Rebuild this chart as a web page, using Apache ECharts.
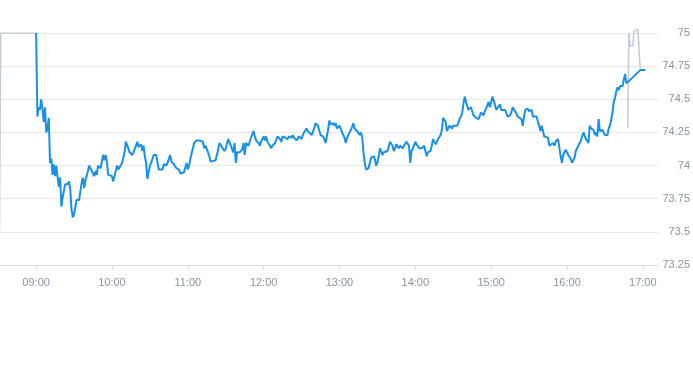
<!DOCTYPE html>
<html>
<head>
<meta charset="utf-8">
<script src="https://cdn.jsdelivr.net/npm/echarts@6/dist/echarts.min.js"></script>
<style>html,body{margin:0;padding:0;background:#fff;}#c{width:693px;height:365px;}</style>
</head>
<body>
<div id="c"></div>
<script>
// Regular session (blue)
const regTimes = [
 '09:00','09:01','09:02','09:03','09:04','09:05','09:06','09:07','09:08','09:09','09:10','09:11','09:12','09:13','09:14','09:15','09:16','09:17','09:18','09:19','09:20','09:21','09:22','09:23','09:25','09:26','09:27','09:28','09:29','09:30','09:32','09:34','09:36','09:37','09:38','09:39','09:40','09:41','09:42','09:43','09:45','09:46','09:47','09:48','09:49','09:50','09:51','09:53','09:54','09:55','09:56','09:57','09:58',
 '10:00','10:01','10:03','10:04','10:05','10:06','10:08','10:10','10:11','10:12','10:14','10:16','10:17','10:19','10:20','10:21','10:23','10:24','10:25','10:26','10:27','10:28','10:30','10:31','10:33','10:34','10:35','10:37','10:38','10:40','10:41','10:43','10:44','10:46','10:47','10:48','10:49','10:50','10:51','10:53','10:54','10:55','10:57','10:58','10:59',
 '11:00','11:01','11:02','11:04','11:05','11:07','11:09','11:10','11:12','11:13','11:14','11:16','11:17','11:18','11:19','11:22','11:23','11:24','11:25','11:26','11:27','11:29','11:30','11:32','11:33','11:34','11:36','11:37','11:38','11:39','11:41','11:42','11:43','11:44','11:45','11:46','11:48','11:49','11:50','11:52','11:53','11:54','11:56','11:57','11:58',
 '12:00','12:01','12:02','12:03','12:05','12:06','12:07','12:09','12:10','12:11','12:13','12:14','12:15','12:17','12:18','12:19','12:20','12:22','12:23','12:24','12:26','12:27','12:28','12:30','12:31','12:32','12:34','12:35','12:36','12:38','12:39','12:40','12:41','12:43','12:44','12:45','12:47','12:48','12:49','12:51','12:52','12:53','12:55','12:56','12:57','12:58',
 '13:00','13:01','13:02','13:04','13:05','13:06','13:07','13:08','13:09','13:10','13:11','13:12','13:14','13:15','13:16','13:17','13:18','13:19','13:20','13:21','13:23','13:24','13:25','13:27','13:28','13:29','13:30','13:31','13:32','13:34','13:35','13:36','13:38','13:39','13:40','13:42','13:43','13:44','13:45','13:47','13:48','13:50','13:51','13:52','13:53','13:55','13:56','13:57','13:59',
 '14:00','14:01','14:03','14:04','14:05','14:07','14:08','14:09','14:10','14:12','14:13','14:14','14:16','14:17','14:18','14:20','14:21','14:22','14:24','14:25','14:26','14:27','14:29','14:30','14:31','14:33','14:34','14:35','14:37','14:38','14:39','14:41','14:42','14:43','14:44','14:45','14:46','14:48','14:50','14:51','14:52','14:54','14:55','14:56','14:58','14:59',
 '15:00','15:01','15:03','15:04','15:05','15:07','15:08','15:09','15:11','15:12','15:13','15:15','15:16','15:17','15:19','15:20','15:21','15:22','15:24','15:25','15:26','15:27','15:28','15:29','15:30','15:32','15:33','15:34','15:36','15:37','15:38','15:39','15:40','15:41','15:42','15:43','15:45','15:46','15:47','15:49','15:50','15:51','15:53','15:54','15:55','15:56','15:57','15:59',
 '16:00','16:01','16:02','16:03','16:04','16:06','16:07','16:08','16:09','16:10','16:11','16:12','16:13','16:15','16:16','16:17','16:18','16:19','16:21','16:22','16:23','16:24','16:25','16:26','16:28','16:29','16:30','16:32','16:33','16:34','16:36','16:37','16:38','16:39','16:40','16:41','16:42','16:44','16:45','16:46','16:47','16:58','17:02'
];
const regValues = [
 75.00,74.37,74.44,74.42,74.50,74.43,74.33,74.44,74.25,74.28,74.36,74.02,74.05,73.93,74.01,73.92,74.00,73.91,73.84,73.91,73.69,73.76,73.81,73.86,73.86,73.88,73.82,73.67,73.61,73.63,73.74,73.74,73.87,73.91,73.83,73.89,73.92,73.93,74.00,74.00,73.94,73.92,73.96,73.93,74.00,74.00,73.98,74.08,74.04,74.08,74.03,73.93,73.93,
 73.92,73.88,73.96,74.00,73.97,73.97,74.02,74.10,74.18,74.17,74.10,74.08,74.10,74.15,74.18,74.14,74.16,74.11,74.15,74.07,74.02,73.90,74.00,74.02,74.08,74.08,74.08,73.97,73.96,73.97,74.01,74.00,74.02,74.08,74.03,74.04,74.01,74.02,73.98,73.97,73.94,73.93,73.95,73.96,74.02,
 73.97,74.00,74.05,74.13,74.17,74.19,74.19,74.19,74.18,74.13,74.15,74.10,74.07,74.03,74.03,74.04,74.05,74.12,74.17,74.18,74.14,74.11,74.13,74.20,74.21,74.15,74.10,74.17,74.02,74.10,74.10,74.09,74.12,74.17,74.08,74.17,74.15,74.16,74.21,74.26,74.22,74.19,74.17,74.15,74.18,
 74.22,74.19,74.22,74.18,74.15,74.13,74.15,74.17,74.18,74.22,74.20,74.18,74.22,74.21,74.21,74.20,74.22,74.21,74.23,74.21,74.19,74.18,74.22,74.20,74.23,74.25,74.28,74.26,74.25,74.23,74.23,74.28,74.32,74.30,74.30,74.23,74.22,74.20,74.17,74.27,74.34,74.31,74.32,74.30,74.32,74.28,
 74.30,74.28,74.25,74.21,74.17,74.21,74.22,74.25,74.26,74.29,74.32,74.28,74.26,74.27,74.23,74.25,74.21,74.10,74.02,73.97,73.98,74.02,74.06,74.07,74.05,74.00,74.02,74.07,74.13,74.08,74.10,74.10,74.11,74.10,74.18,74.15,74.11,74.13,74.16,74.13,74.15,74.13,74.15,74.16,74.18,74.15,74.02,74.11,74.15,
 74.18,74.16,74.13,74.14,74.13,74.15,74.11,74.07,74.10,74.11,74.15,74.20,74.16,74.18,74.20,74.23,74.27,74.36,74.33,74.26,74.25,74.30,74.28,74.30,74.29,74.30,74.32,74.35,74.39,74.46,74.52,74.45,74.42,74.43,74.44,74.41,74.38,74.36,74.35,74.36,74.40,74.38,74.41,74.43,74.48,74.44,
 74.48,74.52,74.46,74.42,74.43,74.46,74.42,74.43,74.42,74.42,74.37,74.38,74.40,74.44,74.41,74.42,74.37,74.38,74.35,74.30,74.37,74.42,74.42,74.43,74.41,74.42,74.37,74.37,74.37,74.33,74.30,74.26,74.30,74.30,74.22,74.23,74.21,74.15,74.16,74.17,74.15,74.18,74.20,74.13,74.07,74.02,74.08,74.12,
 74.11,74.08,74.07,74.05,74.02,74.06,74.11,74.11,74.15,74.17,74.19,74.22,74.25,74.20,74.21,74.17,74.30,74.28,74.27,74.23,74.25,74.22,74.35,74.26,74.27,74.26,74.23,74.23,74.28,74.30,74.40,74.48,74.51,74.56,74.59,74.57,74.60,74.60,74.65,74.69,74.62,74.72,74.72
];
// Extended hours (grey)
const preTimes = ['08:31','08:32','09:00'];
const preValues = [73.50,75.00,75.00];
const postTimes = ['16:48','16:49','16:50','16:52','16:53','16:54','16:56','16:57','16:58'];
const postValues = [74.28,75.00,74.90,74.90,75.01,75.02,75.03,75.02,74.72];
// Axis ticks
const xTickLabels = ['09:00','10:00','11:00','12:00','13:00','14:00','15:00','16:00','17:00'];
const yMin = 73.25, yMax = 75, yStep = 0.25;

const toMin = s => { const p = s.split(':'); return (+p[0]) * 60 + (+p[1]); };
const toLabel = m => { const h = Math.floor(m / 60), mm = Math.round(m - h * 60); return String(h).padStart(2,'0') + ':' + String(mm).padStart(2,'0'); };
const pairs = (t, v) => t.map((s, i) => [toMin(s), v[i]]);
const tickVals = xTickLabels.map(toMin);

const labelColor = '#8a94a3';
const chart = echarts.init(document.getElementById('c'), null, { renderer: 'canvas' });
chart.setOption({
  animation: false,
  grid: { left: 0, right: 30, top: 33, bottom: 100, containLabel: false },
  xAxis: {
    type: 'value',
    min: 511.42,
    max: 1032,
    axisLine: { show: true, lineStyle: { color: '#d8dde3', width: 1 } },
    axisTick: { show: true, length: 5, customValues: tickVals, lineStyle: { color: '#d8dde3' } },
    axisLabel: { customValues: tickVals, formatter: v => toLabel(v), color: labelColor, fontSize: 11, fontFamily: 'Liberation Sans, Arial, sans-serif', margin: 12 },
    splitLine: { show: false }
  },
  yAxis: {
    type: 'value',
    position: 'right',
    min: yMin, max: yMax, interval: yStep,
    axisLine: { show: false },
    axisTick: { show: false },
    axisLabel: { align: 'right', margin: 32, color: labelColor, fontSize: 11, fontFamily: 'Liberation Sans, Arial, sans-serif' },
    splitLine: { lineStyle: { color: '#e5e8ec', width: 1 } }
  },
  series: [
    { type: 'line', data: pairs(preTimes, preValues), showSymbol: false, lineStyle: { color: '#c3ccd6', width: 1.5 }, itemStyle: { color: '#c3ccd6' }, z: 2 },
    { type: 'line', data: pairs(postTimes, postValues), clip: false, showSymbol: false, lineStyle: { color: '#c3ccd6', width: 1.5 }, itemStyle: { color: '#c3ccd6' }, z: 2 },
    { type: 'line', data: pairs(regTimes, regValues), showSymbol: false, lineStyle: { color: '#1990e1', width: 2 }, itemStyle: { color: '#1990e1' }, z: 3 }
  ]
});
</script>
</body>
</html>
